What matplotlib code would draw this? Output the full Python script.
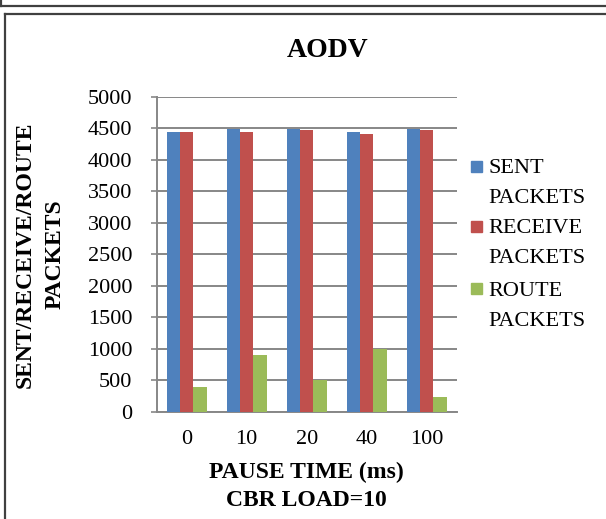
import matplotlib
matplotlib.use("Agg")
import matplotlib.pyplot as plt
import numpy as np
from matplotlib.lines import Line2D
from matplotlib.patches import Rectangle

# ---- data ----
categories = ["0", "10", "20", "40", "100"]
series_names = ["SENT\nPACKETS", "RECEIVE\nPACKETS", "ROUTE\nPACKETS"]
sent_packets = [4440, 4490, 4490, 4440, 4490]
receive_packets = [4440, 4440, 4475, 4405, 4475]
route_packets = [390, 900, 510, 995, 235]
series_values = [sent_packets, receive_packets, route_packets]
colors = ["#4F81BD", "#C0504D", "#9BBB59"]
yticks = [0, 500, 1000, 1500, 2000, 2500, 3000, 3500, 4000, 4500, 5000]

plt.rcParams['font.family'] = ['Liberation Serif', 'DejaVu Serif']

W, H = 606, 519
fig = plt.figure(figsize=(W / 100, H / 100), dpi=100)

# outer frames
frame_col = "#404040"
fig.add_artist(Line2D([0, 1], [1 - 5.5 / H, 1 - 5.5 / H], color=frame_col, lw=1.6, transform=fig.transFigure))
fig.add_artist(Line2D([0.5 / W, 0.5 / W], [1, 1 - 5.5 / H], color=frame_col, lw=1.6, transform=fig.transFigure))
fig.add_artist(Line2D([4.5 / W, 1], [1 - 13.5 / H, 1 - 13.5 / H], color=frame_col, lw=1.6, transform=fig.transFigure))
fig.add_artist(Line2D([4.5 / W, 4.5 / W], [1 - 13.5 / H, 0], color=frame_col, lw=1.6, transform=fig.transFigure))

ax = fig.add_axes([156.7 / W, 1 - 412 / H, 300 / W, 315.3 / H])

x = np.arange(len(categories))
bw = 1 / 4.5
for i, (vals, col) in enumerate(zip(series_values, colors)):
    ax.bar(x + (i - 1) * bw, vals, width=bw, color=col, zorder=3)

ax.set_xlim(-0.5, len(categories) - 0.5)
ax.set_ylim(0, 5000)
ax.set_yticks(yticks)
ax.set_yticklabels([str(v) for v in yticks])
ax.set_xticks(x)
ax.set_xticklabels(categories)

grid_col = "#878787"
ax.yaxis.grid(True, color=grid_col, lw=1.4, zorder=0)
for s in ["top", "right"]:
    ax.spines[s].set_visible(False)
for s in ["left", "bottom"]:
    ax.spines[s].set_color(grid_col)
    ax.spines[s].set_linewidth(1.4)
ax.tick_params(axis='y', length=4, width=1.2, color=grid_col, pad=13.5, labelsize=16)
ax.tick_params(axis='x', length=0, pad=13, labelsize=16)

ax.set_xlabel("PAUSE TIME (ms)\nCBR LOAD=10", fontsize=17, fontweight='bold', labelpad=9, linespacing=1.45)
ax.set_ylabel("SENT/RECEIVE/ROUTE\nPACKETS", fontsize=17, fontweight='bold', labelpad=16, linespacing=1.55)

fig.text(328 / W, 1 - 57 / H, "AODV", ha='center', va='baseline', fontsize=20, fontweight='bold')

# legend (manual); baseline given for the last line of each label
leg_tops = [160.7, 221.0, 283.0]
leg_base = [202.8, 262.8, 325.5]
for name, col, top, base in zip(series_names, colors, leg_tops, leg_base):
    fig.add_artist(Rectangle((471 / W, 1 - (top + 11) / H), 11 / W, 11 / H, color=col, transform=fig.transFigure))
    fig.text(488 / W, 1 - base / H, name, ha='left', va='baseline', fontsize=16, linespacing=1.75)

fig.savefig("out.png", dpi=100)
